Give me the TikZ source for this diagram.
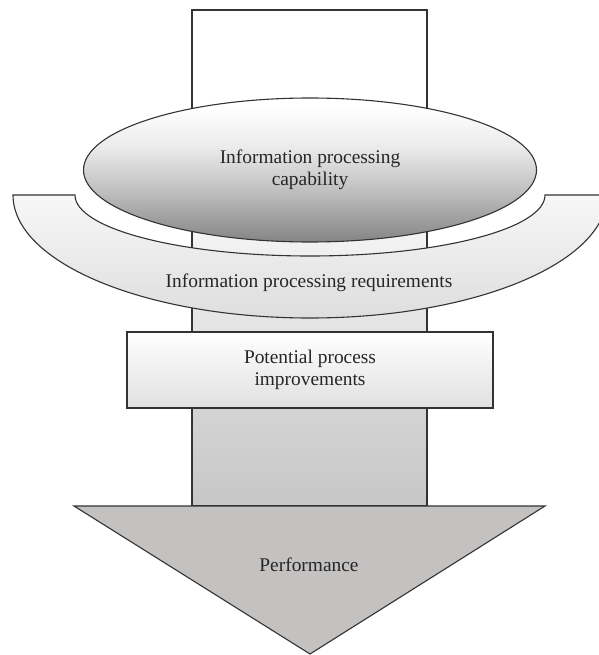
\documentclass[tikz,border=0pt]{standalone}
\usepackage{fontspec}
\setmainfont{Liberation Serif}
\usetikzlibrary{shapes.geometric}
\pgfdeclareverticalshading{shaftfade}{100bp}{color(0bp)=(black!22); color(25bp)=(black!22);
  color(35bp)=(black!17); color(44bp)=(black!10); color(52bp)=(black!5); color(62bp)=(white); color(100bp)=(white)}
\pgfdeclareverticalshading{capfade}{100bp}{color(0bp)=(black!48); color(25bp)=(black!48);
  color(42bp)=(black!26); color(58bp)=(black!8); color(72bp)=(white); color(100bp)=(white)}
\tikzset{
  every node/.style={font=\fontsize{19.4}{21.5}\selectfont, text=black!85, align=center},
  outline/.style={draw=black!80, line width=1.1pt},
}

\begin{document}
\begin{tikzpicture}[x=1pt, y=-1pt]
  \useasboundingbox (0,0) rectangle (598,655);
  % shaft of the arrow
  \path[outline, shading=shaftfade] (192,10) rectangle (427,506);
  % bowl round the ellipse
  \path[outline, top color=black!3, bottom color=black!13]
    (13,195) -- (75,195) arc[start angle=180, end angle=0, x radius=235, y radius=61]
    -- (607,195) arc[start angle=0, end angle=180, x radius=297, y radius=123] -- cycle;
  \node[outline, ellipse, inner sep=0pt, minimum width=453pt, minimum height=144pt,
        shading=capfade] (capability) at (310,170) {Information processing\\capability};
  \node (requirements) at (309,283) {Information processing requirements};
  \node[outline, rectangle, minimum width=366pt, minimum height=76pt,
        top color=white, bottom color=black!12] (improvements) at (310,370) {Potential process\\improvements};
  % head of the arrow
  \path[outline, fill={rgb,255:red,196;green,193;blue,193}] (74,506) -- (545,506) -- (310,654) -- cycle;
  \node (performance) at (309,565) {Performance};
\end{tikzpicture}
\end{document}
